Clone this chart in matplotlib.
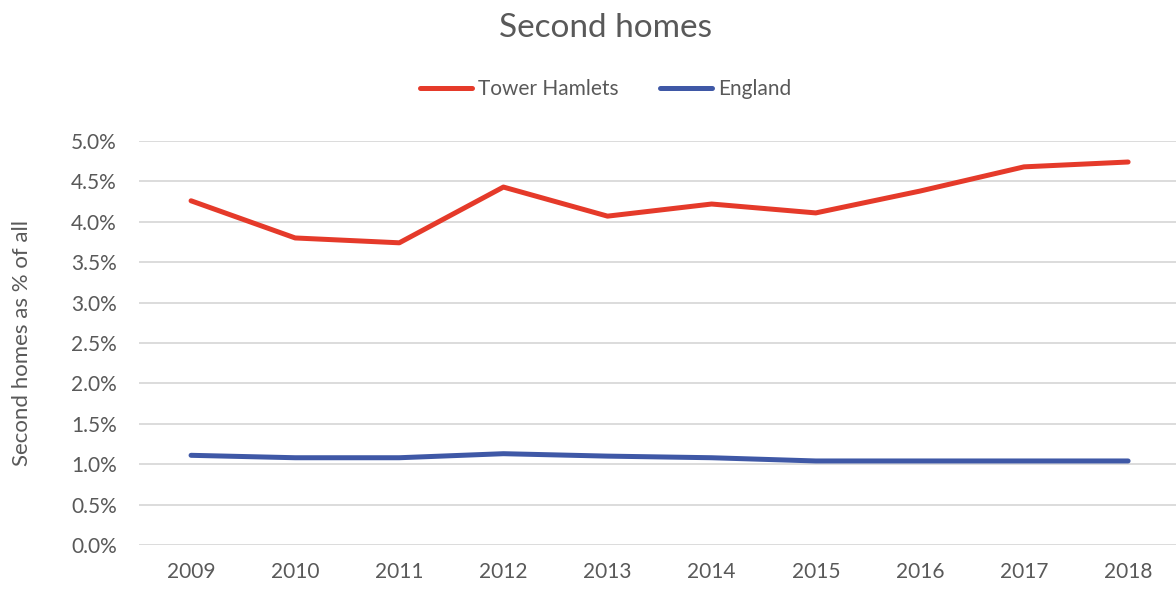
import matplotlib
matplotlib.use("Agg")
import matplotlib.pyplot as plt
from matplotlib.ticker import FuncFormatter

# data
years = [2009, 2010, 2011, 2012, 2013, 2014, 2015, 2016, 2017, 2018]
tower_hamlets = [4.26, 3.80, 3.74, 4.43, 4.07, 4.22, 4.11, 4.38, 4.68, 4.74]
england = [1.11, 1.08, 1.08, 1.13, 1.10, 1.08, 1.04, 1.04, 1.04, 1.04]
yticks = [0.0, 0.5, 1.0, 1.5, 2.0, 2.5, 3.0, 3.5, 4.0, 4.5, 5.0]

TEXT = '#595959'
RED = '#E53A2A'
BLUE = '#3F58A6'

plt.rcParams['font.family'] = ['Lato', 'DejaVu Sans']

fig = plt.figure(figsize=(11.76, 5.9), dpi=100)
ax = fig.add_axes([139 / 1176, 45 / 590, 1 - 139 / 1176, (545 - 141) / 590])

x = list(range(len(years)))
ax.plot(x, tower_hamlets, color=RED, lw=3.6, solid_capstyle='round',
        solid_joinstyle='round', label='Tower Hamlets')
ax.plot(x, england, color=BLUE, lw=3.6, solid_capstyle='round',
        solid_joinstyle='round', label='England')

ax.set_xlim(-0.5, 9.46)
ax.set_ylim(0, 5.0)
ax.set_yticks(yticks)
ax.yaxis.set_major_formatter(FuncFormatter(lambda v, p: f'{v:.1f}%'))
ax.set_xticks(x)
ax.set_xticklabels([str(y) for y in years])

ax.grid(axis='y', color='#d9d9d9', lw=1.3)
ax.set_axisbelow(True)
for s in ax.spines.values():
    s.set_visible(False)
ax.tick_params(length=0, labelsize=15, colors=TEXT, pad=12)
ax.tick_params(axis='y', pad=16)

ax.set_ylabel('Second homes as % of all', fontsize=16, color=TEXT, labelpad=10)
ax.yaxis.set_label_coords(-0.103, 0.5)

fig.text(0.515, 0.953, 'Second homes', ha='center', va='center',
         fontsize=24, color=TEXT)
fig.legend(loc='center', bbox_to_anchor=(0.515, 0.849), ncol=2, frameon=False,
           fontsize=15, handlelength=2.5, columnspacing=2.0, handletextpad=0.3,
           labelcolor=TEXT)

fig.savefig('out.png', dpi=100, facecolor='white')
